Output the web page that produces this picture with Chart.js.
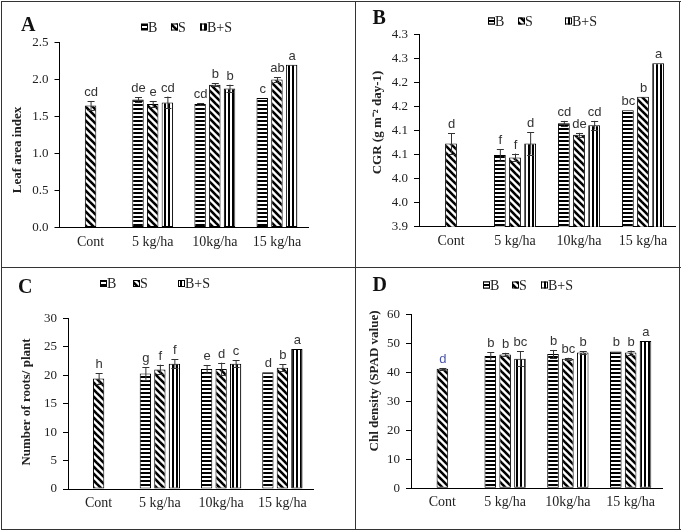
<!DOCTYPE html>
<html><head><meta charset="utf-8">
<script src="https://cdn.jsdelivr.net/npm/chart.js@4.4.1/dist/chart.umd.min.js"></script>
<style>
html,body{margin:0;padding:0;background:#fff;}
#wrap{position:relative;width:682px;height:532px;overflow:hidden;background:#fff;}
canvas{position:absolute;}
.ln{position:absolute;background:#333;z-index:5;}
</style></head><body>
<div id="wrap">
<canvas id="cA" width="356" height="268" style="left:0;top:0"></canvas>
<canvas id="cB" width="326" height="268" style="left:356px;top:0"></canvas>
<canvas id="cC" width="356" height="264" style="left:0;top:268px"></canvas>
<canvas id="cD" width="326" height="264" style="left:356px;top:268px"></canvas>
<div class="ln" style="left:1px;top:1px;width:680px;height:1px"></div>
<div class="ln" style="left:1px;top:529px;width:680px;height:1px"></div>
<div class="ln" style="left:1px;top:1px;width:1px;height:529px"></div>
<div class="ln" style="left:679px;top:1px;width:1px;height:529px"></div>
<div class="ln" style="left:355px;top:1px;width:1px;height:529px"></div>
<div class="ln" style="left:1px;top:267px;width:680px;height:1px"></div>
</div>
<script>
// ---------- data ----------
const categories = ['Cont', '5 kg/ha', '10kg/ha', '15 kg/ha'];
const seriesNames = ['B', 'S', 'B+S'];

// Panel A: Leaf area index
const laiB  = [null, 1.73, 1.67, 1.75];
const laiS  = [1.65, 1.67, 1.93, 2.00];
const laiBS = [null, 1.69, 1.88, 2.20];
const laiErrB  = [null, 0.03, 0.01, 0];
const laiErrS  = [0.06, 0.04, 0.02, 0.03];
const laiErrBS = [null, 0.08, 0.05, 0];
const laiLetB  = ['', 'de', 'cd', 'c'];
const laiLetS  = ['cd', 'e', 'b', 'ab'];
const laiLetBS = ['', 'cd', 'b', 'a'];
const laiTicks = ['0.0', '0.5', '1.0', '1.5', '2.0', '2.5'];

// Panel B: CGR
const cgrB  = [null, 4.049, 4.115, 4.142];
const cgrS  = [4.073, 4.044, 4.091, 4.170];
const cgrBS = [null, 4.073, 4.111, 4.240];
const cgrErrB  = [null, 0.012, 0.005, 0];
const cgrErrS  = [0.021, 0.008, 0.004, 0];
const cgrErrBS = [null, 0.023, 0.009, 0];
const cgrLetB  = ['', 'f', 'cd', 'bc'];
const cgrLetS  = ['d', 'f', 'de', 'b'];
const cgrLetBS = ['', 'd', 'cd', 'a'];
const cgrTicks = ['3.9', '4.0', '4.0', '4.1', '4.1', '4.2', '4.2', '4.3', '4.3'];

// Panel C: Number of roots / plant
const rootB  = [null, 20.3, 21.1, 20.5];
const rootS  = [19.4, 21.0, 21.1, 21.3];
const rootBS = [null, 22.0, 22.0, 24.6];
const rootErrB  = [null, 1.1, 0.7, 0];
const rootErrS  = [0.95, 0.85, 1.1, 0.6];
const rootErrBS = [null, 0.8, 0.6, 0];
const rootLetB  = ['', 'g', 'e', 'd'];
const rootLetS  = ['h', 'f', 'd', 'b'];
const rootLetBS = ['', 'f', 'c', 'a'];
const rootTicks = ['0', '5', '10', '15', '20', '25', '30'];

// Panel D: Chl density (SPAD)
const chlB  = [null, 45.6, 46.3, 47.2];
const chlS  = [41.2, 46.1, 44.7, 46.8];
const chlBS = [null, 44.7, 46.8, 50.8];
const chlErrB  = [null, 1.3, 1.4, 0];
const chlErrS  = [0.3, 0.6, 0.3, 0.7];
const chlErrBS = [null, 2.5, 0.4, 0];
const chlLetB  = ['', 'b', 'b', 'b'];
const chlLetS  = ['d', 'b', 'bc', 'b'];
const chlLetBS = ['', 'bc', 'b', 'a'];
const chlTicks = ['0', '10', '20', '30', '40', '50', '60'];

// ---------- patterns ----------
function makePattern(kind) {
  const s = kind === 'd' ? 7 : 4;
  const c = document.createElement('canvas');
  c.width = s; c.height = s;
  const g = c.getContext('2d');
  g.fillStyle = '#fff'; g.fillRect(0, 0, s, s);
  g.fillStyle = '#000'; g.strokeStyle = '#000';
  if (kind === 'h') g.fillRect(0, 0, s, 2);
  else if (kind === 'v') g.fillRect(0, 0, 2, s);
  else {
    g.lineWidth = 2.6;
    for (let k = -1; k <= 1; k++) {
      g.beginPath(); g.moveTo(k * s - 1, -1); g.lineTo(k * s + s + 1, s + 1); g.stroke();
    }
  }
  return g.createPattern(c, 'repeat');
}
const fills = [makePattern('h'), makePattern('d'), makePattern('v')];

const SERIF = '"Liberation Serif", "Times New Roman", serif';
const SANS = '"Liberation Sans", Arial, sans-serif';
const TXT = '#222';

// ---------- annotation plugin ----------
const annot = {
  id: 'annot',
  afterDatasetsDraw(chart, args, o) {
    const ctx = chart.ctx, ys = chart.scales.y;
    ctx.save();
    chart.data.datasets.forEach((ds, di) => {
      const meta = chart.getDatasetMeta(di);
      ds.data.forEach((v, i) => {
        if (v == null) return;
        const x = meta.data[i].x;
        const e = o.errors[di][i] || 0;
        const yTop = ys.getPixelForValue(v + e);
        const yBot = ys.getPixelForValue(v - e);
        if (e > 0) {
          ctx.strokeStyle = '#333'; ctx.lineWidth = 1;
          ctx.beginPath();
          ctx.moveTo(x + 0.5, yTop); ctx.lineTo(x + 0.5, yBot);
          ctx.moveTo(x - 3, Math.round(yTop) + 0.5); ctx.lineTo(x + 4, Math.round(yTop) + 0.5);
          ctx.moveTo(x - 3, Math.round(yBot) + 0.5); ctx.lineTo(x + 4, Math.round(yBot) + 0.5);
          ctx.stroke();
        }
        const lab = o.letters[di][i];
        if (lab) {
          ctx.font = '13px ' + SANS;
          ctx.fillStyle = (o.letterColors && o.letterColors[di] && o.letterColors[di][i]) || '#333';
          ctx.textAlign = 'center'; ctx.textBaseline = 'alphabetic';
          ctx.fillText(lab, x + 0.5, yTop - 5);
        }
      });
    });
    ctx.restore();
  },
  afterDraw(chart, args, o) {
    const ctx = chart.ctx;
    ctx.save();
    // panel letter
    ctx.font = 'bold 20px ' + SERIF; ctx.fillStyle = '#111';
    ctx.textAlign = 'left'; ctx.textBaseline = 'alphabetic';
    ctx.fillText(o.panel, o.panelX, o.panelY);
    // legend
    chart.data.datasets.forEach((ds, di) => {
      const sx = o.legendX[di], cy = o.legendY;
      ctx.fillStyle = ds.backgroundColor;
      ctx.fillRect(sx, cy - 3.5, 7, 7);
      ctx.strokeStyle = '#000'; ctx.lineWidth = 1;
      ctx.strokeRect(sx + 0.5, cy - 3, 6, 6);
      ctx.fillStyle = TXT; ctx.font = '14px ' + SERIF;
      ctx.textBaseline = 'middle'; ctx.textAlign = 'left';
      ctx.fillText(ds.label, sx + 7, cy + 1);
    });
    // y title
    ctx.translate(o.titleX, o.titleY);
    ctx.rotate(-Math.PI / 2);
    ctx.font = 'bold 13px ' + SERIF; ctx.fillStyle = TXT;
    ctx.textAlign = 'center'; ctx.textBaseline = 'middle';
    ctx.fillText(o.title, 0, 0);
    ctx.restore();
  }
};

function makePanel(id, p) {
  const cv = document.getElementById(id);
  const W = cv.width, H = cv.height;
  const sets = [p.b, p.s, p.bs];
  new Chart(cv, {
    type: 'bar',
    data: {
      labels: categories,
      datasets: sets.map((d, i) => ({
        label: seriesNames[i], data: d,
        backgroundColor: fills[i], borderColor: '#000', borderWidth: 1,
        borderSkipped: false,
        categoryPercentage: 0.71, barPercentage: 0.78
      }))
    },
    options: {
      responsive: false, animation: false, devicePixelRatio: 1,
      layout: { padding: { left: 0, top: p.area.top, right: W - p.area.right, bottom: 0 } },
      plugins: {
        legend: { display: false }, tooltip: { enabled: false },
        annot: {
          errors: p.errs, letters: p.lets, letterColors: p.letColors,
          panel: p.panel, panelX: p.panelX, panelY: p.panelY,
          legendX: p.legendX, legendY: p.legendY,
          title: p.title, titleX: p.titleX, titleY: p.titleY
        }
      },
      scales: {
        x: {
          offset: true,
          grid: { display: true, drawOnChartArea: false, drawTicks: false, color: '#000' },
          border: { display: true, color: '#000', width: 1 },
          ticks: { color: TXT, font: { family: SERIF, size: 14 }, padding: 6, maxRotation: 0, autoSkip: false },
          afterFit(s) { s.height = H - p.area.bottom; }
        },
        y: {
          min: p.min, max: p.max,
          grid: { display: true, drawOnChartArea: false, drawTicks: true, tickLength: 5, color: '#000' },
          border: { display: true, color: '#000', width: 1 },
          ticks: {
            stepSize: p.step, color: TXT, font: { family: SERIF, size: 13 }, padding: 6,
            callback: (v, i) => (p.ticks[i] !== undefined ? p.ticks[i] : String(v))
          },
          afterFit(s) { s.width = p.area.left; }
        }
      }
    },
    plugins: [annot]
  });
}

makePanel('cA', {
  b: laiB, s: laiS, bs: laiBS,
  errs: [laiErrB, laiErrS, laiErrBS], lets: [laiLetB, laiLetS, laiLetBS],
  min: 0, max: 2.5, step: 0.5, ticks: laiTicks,
  area: { left: 59.5, right: 308, top: 42.5, bottom: 227.5 },
  panel: 'A', panelX: 21, panelY: 31,
  legendX: [141, 171, 200], legendY: 27,
  title: 'Leaf area index', titleX: 18, titleY: 150
});
makePanel('cB', {
  b: cgrB, s: cgrS, bs: cgrBS,
  errs: [cgrErrB, cgrErrS, cgrErrBS], lets: [cgrLetB, cgrLetS, cgrLetBS],
  min: 3.9, max: 4.3, step: 0.05, ticks: cgrTicks,
  area: { left: 63, right: 319, top: 34.3, bottom: 226.7 },
  panel: 'B', panelX: 16.5, panelY: 24,
  legendX: [132, 162, 209], legendY: 21,
  title: 'CGR (g m\u207B\u00B2 day-1)', titleX: 21.7, titleY: 122.5
});
makePanel('cC', {
  b: rootB, s: rootS, bs: rootBS,
  errs: [rootErrB, rootErrS, rootErrBS], lets: [rootLetB, rootLetS, rootLetBS],
  min: 0, max: 30, step: 5, ticks: rootTicks,
  area: { left: 68, right: 313, top: 50.3, bottom: 221 },
  panel: 'C', panelX: 18, panelY: 24.7,
  legendX: [100, 133, 178], legendY: 15.5,
  title: 'Number of roots/ plant', titleX: 26.7, titleY: 134
});
makePanel('cD', {
  b: chlB, s: chlS, bs: chlBS,
  errs: [chlErrB, chlErrS, chlErrBS], lets: [chlLetB, chlLetS, chlLetBS],
  letColors: [[], ['#4a55a8'], []],
  min: 0, max: 60, step: 10, ticks: chlTicks,
  area: { left: 55, right: 306, top: 46.3, bottom: 220.3 },
  panel: 'D', panelX: 16.5, panelY: 23,
  legendX: [127, 156, 185], legendY: 17,
  title: 'Chl density (SPAD value)', titleX: 18.3, titleY: 113
});
</script>
</body></html>
